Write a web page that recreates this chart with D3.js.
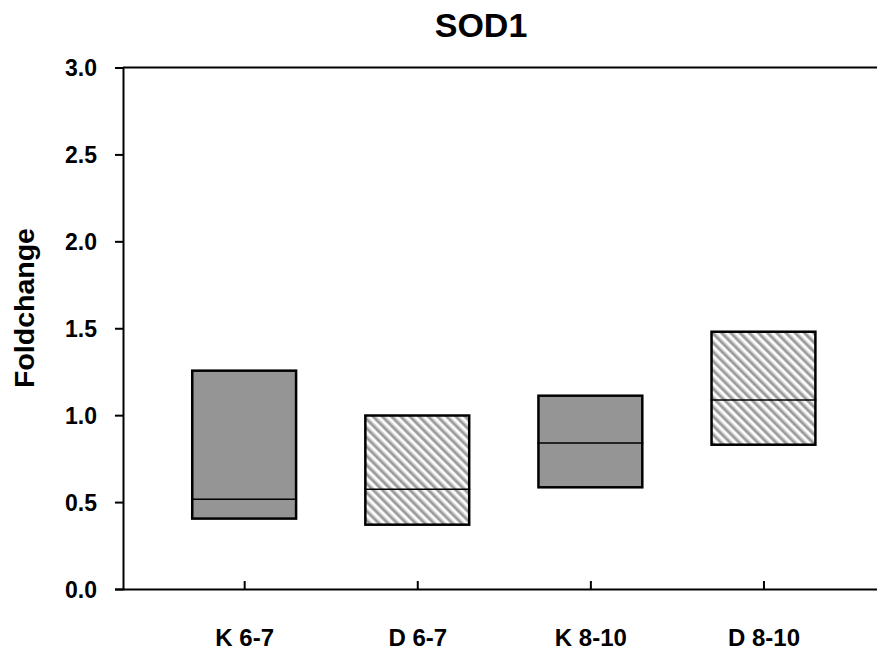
<!DOCTYPE html>
<html>
<head>
<meta charset="utf-8">
<style>
  body { margin: 0; background: #fff; }
  svg { font-family: "Liberation Sans", Arial, sans-serif; font-weight: bold; }
</style>
</head>
<body>
<svg id="chart" width="877" height="653"></svg>
<script src="https://cdn.jsdelivr.net/npm/d3@7"></script>
<script>
// data
let groups = ["K 6-7", "D 6-7", "K 8-10", "D 8-10"]
let lows = [0.405, 0.37, 0.585, 0.83]
let medians = [0.516, 0.574, 0.84, 1.087]
let highs = [1.256, 0.998, 1.112, 1.48]
let hatched = [false, true, false, true]
let yTicks = [0, 0.5, 1, 1.5, 2, 2.5, 3]

let svg = d3.select("#chart")

// stripe pattern for the D groups
let defs = svg.append("defs")
let pat = defs.append("pattern")
  .attr("id", "stripes")
  .attr("patternUnits", "userSpaceOnUse")
  .attr("width", 6.5).attr("height", 6.5)
  .attr("patternTransform", "rotate(-45)")
pat.append("rect").attr("width", 6.5).attr("height", 6.5).attr("fill", "#ffffff")
pat.append("rect").attr("x", 0).attr("width", 1).attr("height", 6.5).attr("fill", "#c4c4c4")
pat.append("rect").attr("x", 1).attr("width", 2.2).attr("height", 6.5).attr("fill", "#959595")
pat.append("rect").attr("x", 3.2).attr("width", 1).attr("height", 6.5).attr("fill", "#c4c4c4")

let plotLeft = 123, plotTop = 67.5, plotBottom = 589

// x is numeric: groups sit at 1..4
let x = d3.scaleLinear().domain([0.3, 4.7]).range([plotLeft, plotLeft + 4.4 * 173.1])
let y = d3.scaleLinear().domain([0, 3]).range([plotBottom, plotTop])
let boxW = x(1.3) - x(0.7)

// title
svg.append("text")
  .attr("x", 481).attr("y", 37)
  .attr("text-anchor", "middle")
  .attr("font-size", 34)
  .text("SOD1")

// y axis label
svg.append("text")
  .attr("transform", "translate(34," + 308 + ") rotate(-90)")
  .attr("text-anchor", "middle")
  .attr("font-size", 28.5)
  .text("Foldchange")

// y axis
let yAxis = svg.append("g")
  .attr("transform", "translate(" + plotLeft + ",0)")
  .call(d3.axisLeft(y).tickValues(yTicks).tickFormat(d3.format(".1f")).tickSize(8).tickPadding(18))
yAxis.select(".domain").attr("stroke-width", 2)
yAxis.selectAll(".tick line").attr("stroke-width", 2)
yAxis.selectAll("text").attr("font-size", 23).attr("font-family", "Liberation Sans, Arial, sans-serif").attr("font-weight", "bold").attr("dy", "0.36em")

// x axis
let xAxis = svg.append("g")
  .attr("transform", "translate(0," + plotBottom + ")")
  .call(d3.axisBottom(x).tickValues([1, 2, 3, 4]).tickFormat((d) => groups[d - 1]).tickSize(8).tickSizeOuter(0).tickPadding(32))
xAxis.select(".domain").attr("stroke-width", 2)
xAxis.selectAll(".tick line").attr("stroke-width", 2).attr("y1", -8).attr("y2", 0)
xAxis.selectAll("text").attr("font-size", 24).attr("font-family", "Liberation Sans, Arial, sans-serif").attr("font-weight", "bold")

// top frame line
svg.append("line")
  .attr("x1", plotLeft).attr("x2", 877)
  .attr("y1", plotTop).attr("y2", plotTop)
  .attr("stroke", "black").attr("stroke-width", 2)

// boxes
let boxes = svg.append("g").selectAll("g")
  .data(groups)
  .enter()
  .append("g")

boxes.append("rect")
  .attr("x", (d, i) => x(i + 1) - boxW / 2)
  .attr("y", (d, i) => y(highs[i]))
  .attr("width", boxW)
  .attr("height", (d, i) => y(lows[i]) - y(highs[i]))
  .attr("fill", (d, i) => hatched[i] ? "url(#stripes)" : "#959595")
  .attr("stroke", "black")
  .attr("stroke-width", 2.5)

boxes.append("line")
  .attr("x1", (d, i) => x(i + 1) - boxW / 2 - 1)
  .attr("x2", (d, i) => x(i + 1) + boxW / 2 + 1)
  .attr("y1", (d, i) => y(medians[i]))
  .attr("y2", (d, i) => y(medians[i]))
  .attr("stroke", "black")
  .attr("stroke-width", 1.5)
</script>
</body>
</html>
